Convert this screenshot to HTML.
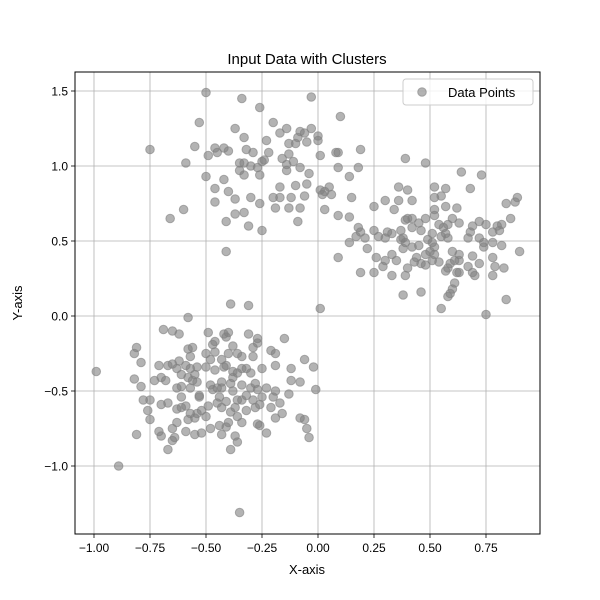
<!DOCTYPE html>
<html><head><meta charset="utf-8"><style>
body{margin:0;background:#fff}
svg{display:block;font-family:"Liberation Sans","DejaVu Sans",sans-serif}
</style></head><body>
<svg id="chart" width="600" height="600" viewBox="0 0 600 600" xmlns="http://www.w3.org/2000/svg">
<rect width="600" height="600" fill="#fff"/>
<text x="307" y="64" text-anchor="middle" font-size="15">Input Data with Clusters</text>
<g id="grid"></g>
<g id="points"></g>
<rect x="75" y="72" width="465" height="462" fill="none" stroke="#000" stroke-width="1"/>
<g id="ticks"></g>
<text x="307" y="574" text-anchor="middle" font-size="13">X-axis</text>
<text x="22" y="303" text-anchor="middle" font-size="13" transform="rotate(-90 22 303)">Y-axis</text>
<g>
<rect x="403" y="79" width="130" height="26" rx="3" fill="#fff" fill-opacity="0.8" stroke="#ccc"/>
<circle cx="422" cy="92" r="4.3" fill="#808080" fill-opacity="0.6" stroke="#808080" stroke-opacity="0.6"/>
<text x="448" y="97" font-size="13">Data Points</text>
</g>
</svg>
<script>
const xTicks=[-1.00,-0.75,-0.50,-0.25,0.00,0.25,0.50,0.75];
const xTickLabels=["−1.00","−0.75","−0.50","−0.25","0.00","0.25","0.50","0.75"];
const yTicks=[-1.0,-0.5,0.0,0.5,1.0,1.5];
const yTickLabels=["−1.0","−0.5","0.0","0.5","1.0","1.5"];
const xs=[-0.99,-0.89,-0.35,-0.58,-0.69,-0.65,-0.62,-0.81,-0.82,-0.79,-0.82,-0.79,-0.78,-0.75,-0.76,-0.75,-0.81,-0.71,-0.70,-0.67,-0.65,-0.64,-0.65,-0.63,-0.59,-0.55,-0.52,-0.48,-0.43,-0.37,-0.36,-0.39,-0.44,-0.41,-0.40,-0.34,-0.36,-0.27,-0.26,-0.23,-0.19,-0.16,-0.08,-0.06,-0.05,-0.04,-0.01,-0.02,-0.06,-0.12,-0.12,-0.08,-0.13,-0.17,-0.21,-0.20,-0.19,-0.23,-0.19,-0.25,-0.21,-0.19,-0.15,0.01,-0.31,-0.39,-0.27,-0.27,-0.29,-0.31,-0.40,-0.42,-0.41,-0.49,-0.46,-0.47,-0.38,-0.40,-0.36,-0.34,-0.29,-0.34,-0.32,-0.30,-0.28,-0.30,-0.27,-0.34,-0.36,-0.32,-0.28,-0.26,-0.37,-0.39,-0.43,-0.45,-0.38,-0.43,-0.45,-0.43,-0.48,-0.47,-0.49,-0.53,-0.53,-0.52,-0.54,-0.50,-0.57,-0.55,-0.58,-0.59,-0.61,-0.63,-0.67,-0.70,-0.56,-0.54,-0.61,-0.61,-0.63,-0.61,-0.57,-0.58,-0.68,-0.73,-0.71,-0.67,-0.65,-0.62,-0.63,-0.59,-0.57,-0.54,-0.55,-0.58,-0.56,-0.57,-0.50,-0.46,-0.48,-0.50,-0.46,-0.42,-0.41,-0.38,-0.38,-0.39,-0.36,-0.34,-0.32,-0.29,-0.25,-0.44,-0.41,-0.70,-0.43,
-0.50,-0.34,-0.26,-0.03,0.10,-0.53,-0.75,-0.55,-0.46,-0.42,-0.40,-0.49,-0.45,-0.59,-0.50,-0.42,-0.46,-0.40,-0.46,-0.37,-0.37,-0.33,-0.41,-0.60,-0.66,-0.41,-0.31,-0.25,-0.30,-0.26,-0.33,-0.35,-0.35,-0.33,-0.30,-0.27,-0.25,-0.24,-0.26,-0.32,-0.29,-0.37,-0.33,-0.23,-0.22,-0.20,-0.17,-0.14,-0.08,-0.06,-0.03,0.00,0.00,-0.09,-0.13,-0.10,-0.05,-0.13,-0.16,-0.14,-0.11,-0.08,-0.04,-0.14,0.01,0.08,0.09,0.19,0.09,0.18,0.14,0.15,0.03,0.09,0.14,0.25,-0.17,-0.17,-0.20,-0.10,-0.05,-0.12,-0.06,-0.19,-0.13,-0.08,-0.09,0.01,0.03,0.05,0.06,0.02,
0.39,0.48,0.64,0.73,0.68,0.52,0.57,0.36,0.40,0.30,0.36,0.42,0.34,0.52,0.55,0.57,0.52,0.62,0.52,0.60,0.63,0.84,0.88,0.89,0.86,0.72,0.75,0.80,0.82,0.81,0.78,0.69,0.68,0.72,0.74,0.74,0.78,0.82,0.90,0.78,0.79,0.78,0.83,0.84,0.75,0.72,0.69,0.67,0.69,0.70,0.63,0.60,0.63,0.61,0.59,0.58,0.62,0.63,0.57,0.61,0.60,0.59,0.58,0.55,0.46,0.38,0.39,0.40,0.33,0.25,0.19,0.09,0.14,0.18,0.19,0.17,0.22,0.21,0.25,0.27,0.30,0.33,0.37,0.39,0.40,0.42,0.45,0.48,0.42,0.46,0.38,0.39,0.37,0.38,0.42,0.45,0.49,0.51,0.54,0.56,0.57,0.58,0.55,0.51,0.52,0.50,0.48,0.44,0.43,0.46,0.48,0.51,0.54,0.52,0.33,0.30,0.29,0.35,0.26,0.31,0.67,0.58];
const ys=[-0.37,-1.00,-1.31,-0.01,-0.09,-0.10,-0.12,-0.21,-0.25,-0.31,-0.42,-0.47,-0.56,-0.56,-0.63,-0.69,-0.79,-0.77,-0.80,-0.89,-0.83,-0.81,-0.75,-0.71,-0.77,-0.79,-0.78,-0.75,-0.79,-0.80,-0.84,-0.89,-0.73,-0.74,-0.71,-0.71,-0.67,-0.72,-0.73,-0.78,-0.68,-0.65,-0.68,-0.69,-0.75,-0.81,-0.49,-0.34,-0.29,-0.35,-0.43,-0.44,-0.52,-0.58,-0.61,-0.54,-0.50,-0.48,-0.33,-0.35,-0.23,-0.25,-0.15,0.05,0.07,0.08,-0.15,-0.18,-0.21,-0.12,-0.11,-0.12,-0.14,-0.11,-0.17,-0.19,-0.20,-0.25,-0.25,-0.27,-0.27,-0.35,-0.35,-0.38,-0.45,-0.48,-0.49,-0.56,-0.56,-0.63,-0.61,-0.59,-0.61,-0.64,-0.61,-0.58,-0.50,-0.48,-0.48,-0.44,-0.46,-0.49,-0.60,-0.53,-0.54,-0.63,-0.65,-0.67,-0.65,-0.68,-0.69,-0.60,-0.61,-0.62,-0.58,-0.59,-0.43,-0.44,-0.39,-0.47,-0.48,-0.54,-0.48,-0.41,-0.43,-0.43,-0.33,-0.33,-0.32,-0.30,-0.35,-0.33,-0.35,-0.34,-0.39,-0.22,-0.21,-0.27,-0.25,-0.24,-0.29,-0.34,-0.36,-0.34,-0.33,-0.37,-0.41,-0.45,-0.38,-0.46,-0.53,-0.56,-0.54,-0.54,-0.57,-0.41,-0.29,
1.49,1.45,1.39,1.46,1.33,1.29,1.11,1.13,1.12,1.12,1.10,1.07,1.09,1.02,0.93,0.91,0.85,0.83,0.76,0.78,0.68,0.69,0.63,0.71,0.65,0.43,0.60,0.57,0.79,0.75,0.94,0.97,1.02,1.02,1.00,0.99,1.03,1.04,0.94,1.11,1.09,1.25,1.19,1.17,1.09,1.29,1.22,1.25,1.23,1.22,1.25,1.20,1.17,1.19,1.15,1.15,1.16,1.08,1.05,1.01,1.03,0.99,0.95,0.97,1.07,1.09,1.09,1.11,0.99,0.99,0.93,0.79,0.71,0.67,0.66,0.73,0.86,0.79,0.79,0.87,0.88,0.79,0.80,0.72,0.72,0.72,0.63,0.84,0.83,0.86,0.81,0.81,
1.05,1.02,0.96,0.94,0.85,0.86,0.85,0.86,0.84,0.77,0.77,0.77,0.71,0.79,0.80,0.73,0.71,0.72,0.67,0.65,0.62,0.75,0.76,0.79,0.65,0.63,0.61,0.60,0.61,0.57,0.56,0.60,0.56,0.52,0.49,0.46,0.49,0.47,0.43,0.39,0.33,0.27,0.32,0.11,0.01,0.35,0.40,0.33,0.29,0.27,0.41,0.43,0.37,0.37,0.35,0.32,0.29,0.29,0.30,0.22,0.18,0.15,0.13,0.05,0.16,0.14,0.27,0.32,0.27,0.29,0.29,0.39,0.49,0.59,0.56,0.53,0.45,0.52,0.57,0.53,0.52,0.55,0.57,0.64,0.65,0.65,0.62,0.65,0.59,0.57,0.52,0.49,0.51,0.45,0.46,0.47,0.51,0.55,0.61,0.59,0.55,0.52,0.53,0.49,0.46,0.43,0.41,0.39,0.36,0.35,0.34,0.37,0.36,0.41,0.41,0.37,0.33,0.37,0.39,0.56,0.52,0.61];
const NS='http://www.w3.org/2000/svg';
const L=75,R=540,T=72,B=534;
function sx(v){return 318+v*224;}
function sy(v){return 316-v*150;}
const grid=document.getElementById('grid'),ticks=document.getElementById('ticks'),pts=document.getElementById('points');
function mk(tag,attrs,parent){const e=document.createElementNS(NS,tag);for(const k in attrs)e.setAttribute(k,attrs[k]);parent.appendChild(e);return e;}
xTicks.forEach((v,i)=>{const x=sx(v);
 const g=mk('line',{x1:x,x2:x,y1:T,y2:B,stroke:'#b0b0b0','stroke-width':0.8},grid);
 
 
 const t=mk('line',{x1:x,x2:x,y1:B,y2:B+4,stroke:'#000','stroke-width':0.8},ticks);
 
 
 const l=mk('text',{x:x,y:B+18,'text-anchor':'middle','font-size':12},ticks);l.textContent=xTickLabels[i];
 
 
});
yTicks.forEach((v,i)=>{const y=sy(v);
 const g=mk('line',{x1:L,x2:R,y1:y,y2:y,stroke:'#b0b0b0','stroke-width':0.8},grid);
 
 
 const t=mk('line',{x1:L-4,x2:L,y1:y,y2:y,stroke:'#000','stroke-width':0.8},ticks);
 
 
 const l=mk('text',{x:L-7,y:y+4.5,'text-anchor':'end','font-size':12},ticks);l.textContent=yTickLabels[i];
 
 
});
for(let i=0;i<Math.min(xs.length,ys.length);i++){
 const c=mk('circle',{cx:sx(xs[i]),cy:sy(ys[i]),r:4.3,fill:'#808080','fill-opacity':0.6,stroke:'#808080','stroke-opacity':0.6,'stroke-width':1},pts);
 
 
}
</script>
</body></html>
